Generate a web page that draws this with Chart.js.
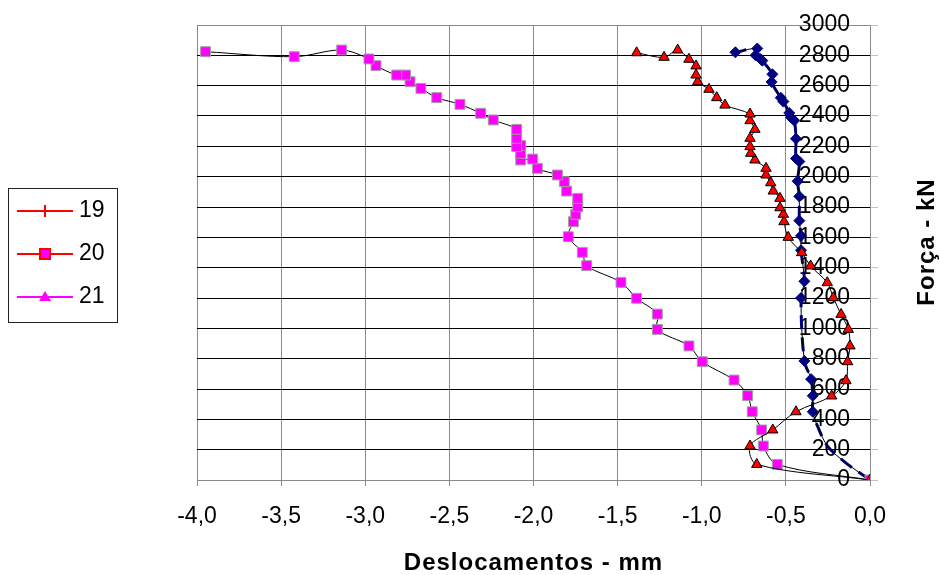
<!DOCTYPE html>
<html>
<head>
<meta charset="utf-8">
<script src="https://cdn.jsdelivr.net/npm/chart.js@4/dist/chart.umd.min.js"></script>
<style>
  html, body { margin: 0; padding: 0; background: #fff; }
  #wrap { width: 940px; height: 575px; position: relative; }
</style>
</head>
<body>
<div id="wrap"><canvas id="c" width="940" height="575"></canvas></div>
<script>
// Axis ticks
const xTicks = [-4.0, -3.5, -3.0, -2.5, -2.0, -1.5, -1.0, -0.5, 0.0];
const yTicks = [0, 200, 400, 600, 800, 1000, 1200, 1400, 1600, 1800, 2000, 2200, 2400, 2600, 2800, 3000];
const legendLabels = ['19', '20', '21'];
const xTitle = 'Deslocamentos - mm';
const yTitle = 'Força - kN';

// Navy diamonds: displacement (mm) and load (kN)
const diamondDesl = [0, -0.14, -0.25, -0.31, -0.34, -0.34, -0.35, -0.39, -0.41, -0.39, -0.41, -0.41, -0.42, -0.42, -0.43, -0.42, -0.44, -0.44, -0.45, -0.47, -0.48, -0.515, -0.53, -0.585, -0.58, -0.64, -0.65, -0.68, -0.67, -0.80];
const diamondForca = [0, 110, 220, 350, 450, 555, 665, 785, 1200, 1310, 1515, 1610, 1710, 1870, 1970, 2100, 2120, 2250, 2370, 2390, 2420, 2495, 2520, 2625, 2675, 2765, 2775, 2800, 2845, 2820];

// Red triangles
const triangleDesl = [0, -0.673, -0.713, -0.578, -0.44, -0.228, -0.143, -0.133, -0.119, -0.129, -0.172, -0.218, -0.254, -0.353, -0.406, -0.486, -0.511, -0.515, -0.535, -0.535, -0.575, -0.59, -0.618, -0.618, -0.684, -0.709, -0.713, -0.713, -0.684, -0.713, -0.713, -0.862, -0.911, -0.957, -1.024, -1.034, -1.034, -1.076, -1.143, -1.224, -1.387];
const triangleForca = [0, 103, 224, 330, 450, 554, 655, 780, 884, 993, 1092, 1202, 1301, 1411, 1499, 1600, 1703, 1752, 1795, 1857, 1905, 1960, 2011, 2055, 2110, 2154, 2198, 2253, 2312, 2369, 2413, 2472, 2521, 2576, 2626, 2670, 2730, 2774, 2835, 2787, 2817];

// Magenta squares
const squareDesl = [0, -0.551, -0.634, -0.644, -0.70, -0.727, -0.808, -0.997, -1.076, -1.264, -1.264, -1.387, -1.48, -1.684, -1.71, -1.793, -1.763, -1.749, -1.737, -1.737, -1.803, -1.817, -1.858, -1.977, -2.005, -2.076, -2.076, -2.076, -2.1, -2.1, -2.1, -2.239, -2.314, -2.437, -2.575, -2.669, -2.734, -2.76, -2.813, -2.936, -2.978, -3.14, -3.422, -3.949];
const squareForca = [0, 103, 224, 330, 450, 556, 659, 780, 884, 993, 1094, 1198, 1303, 1413, 1501, 1604, 1703, 1752, 1802, 1857, 1905, 1967, 2011, 2055, 2116, 2110, 2154, 2205, 2198, 2253, 2312, 2374, 2418, 2477, 2521, 2582, 2626, 2670, 2670, 2732, 2776, 2835, 2791, 2824];

const toPoints = (xs, ys) => xs.map((x, i) => ({ x: x, y: ys[i] }));

const FONT = "'Liberation Sans', Arial, sans-serif";
const GRID_GREY = '#8a8a8a';
const NAVY = '#000080';
const RED = '#ff0000';
const MAGENTA = '#ff00ff';

// Titles and legend box drawn on the canvas
const decorPlugin = {
  id: 'decor',
  afterDraw(chart) {
    const ctx = chart.ctx;
    const area = chart.chartArea;
    ctx.save();
    ctx.fillStyle = '#000';
    ctx.font = 'bold 24px ' + FONT;
    ctx.letterSpacing = '1px';
    ctx.textAlign = 'center';
    ctx.textBaseline = 'middle';
    ctx.fillText(xTitle, (area.left + area.right) / 2, 563);
    ctx.save();
    ctx.translate(927, 242);
    ctx.rotate(-Math.PI / 2);
    ctx.fillText(yTitle, 0, 0);
    ctx.restore();
    ctx.letterSpacing = '0px';

    // legend
    ctx.strokeStyle = '#222';
    ctx.lineWidth = 1;
    ctx.strokeRect(8.5, 188.5, 109, 134);
    const rows = [211, 254, 297];
    const lineColors = [RED, RED, MAGENTA];
    rows.forEach((ry, i) => {
      ctx.strokeStyle = lineColors[i];
      ctx.lineWidth = 2;
      ctx.beginPath();
      ctx.moveTo(17, ry);
      ctx.lineTo(73, ry);
      ctx.stroke();
      if (i === 0) {
        ctx.beginPath();
        ctx.moveTo(45, ry - 6);
        ctx.lineTo(45, ry + 6);
        ctx.stroke();
      } else if (i === 1) {
        ctx.fillStyle = MAGENTA;
        ctx.fillRect(40, ry - 5, 10, 10);
        ctx.strokeStyle = RED;
        ctx.strokeRect(40, ry - 5, 10, 10);
      } else {
        ctx.fillStyle = MAGENTA;
        ctx.beginPath();
        ctx.moveTo(45, ry - 6);
        ctx.lineTo(51, ry + 4);
        ctx.lineTo(39, ry + 4);
        ctx.closePath();
        ctx.fill();
      }
      ctx.fillStyle = '#000';
      ctx.font = '23px ' + FONT;
      ctx.textAlign = 'left';
      ctx.textBaseline = 'middle';
      ctx.fillText(legendLabels[i], 79, ry);
    });
    ctx.restore();
  }
};

new Chart(document.getElementById('c'), {
  type: 'scatter',
  data: {
    datasets: [
      {
        data: toPoints(triangleDesl, triangleForca),
        showLine: true,
        borderColor: '#000',
        borderWidth: 1,
        tension: 0.33,
        pointStyle: 'triangle',
        pointRadius: 6,
        pointBackgroundColor: RED,
        pointBorderColor: '#000',
        pointBorderWidth: 1
      },
      {
        data: toPoints(squareDesl, squareForca),
        showLine: true,
        borderColor: '#000',
        borderWidth: 1,
        tension: 0.33,
        pointStyle: 'rect',
        pointRadius: 7,
        pointBackgroundColor: MAGENTA,
        pointBorderColor: '#a0a0a0',
        pointBorderWidth: 1
      },
      {
        data: toPoints(diamondDesl, diamondForca),
        showLine: true,
        borderColor: '#000',
        borderWidth: 1,
        tension: 0.33,
        pointStyle: 'rectRot',
        pointRadius: (c) => (c.raw && c.raw.y < 400 ? 0 : 5.5),
        pointBackgroundColor: NAVY,
        pointBorderColor: NAVY,
        pointBorderWidth: 1
      },
      {
        data: toPoints(diamondDesl, diamondForca),
        showLine: true,
        borderColor: NAVY,
        borderWidth: 3,
        borderDash: [14, 8],
        tension: 0.33,
        pointRadius: 0
      }
    ]
  },
  options: {
    responsive: false,
    animation: false,
    events: [],
    layout: { padding: { left: 197, right: 62, top: 25, bottom: 0 } },
    plugins: {
      legend: { display: false },
      tooltip: { enabled: false },
      title: { display: false }
    },
    scales: {
      x: {
        type: 'linear',
        position: 'bottom',
        min: -4,
        max: 0,
        afterBuildTicks: (s) => { s.ticks = xTicks.map(v => ({ value: v })); },
        afterFit: (s) => { s.height = 95; },
        ticks: {
          callback: (v) => Number(v).toFixed(1).replace('.', ','),
          font: { family: FONT, size: 23 },
          color: '#000',
          padding: 17,
          maxRotation: 0,
          autoSkip: false
        },
        grid: { color: GRID_GREY, tickColor: GRID_GREY, tickLength: 6, drawTicks: true },
        border: { color: GRID_GREY }
      },
      y: {
        type: 'linear',
        position: 'right',
        min: 0,
        max: 3000,
        afterBuildTicks: (s) => { s.ticks = yTicks.map(v => ({ value: v })); },
        afterFit: (s) => { s.width = 8; },
        ticks: {
          callback: (v) => String(v),
          mirror: true,
          padding: -20,
          font: { family: FONT, size: 23 },
          color: '#000',
          autoSkip: false
        },
        grid: {
          color: (c) => (c.tick && (c.tick.value === 0 || c.tick.value === 3000) ? GRID_GREY : '#000'),
          tickColor: '#c4c4c4',
          tickLength: 8
        },
        border: { color: GRID_GREY }
      }
    }
  },
  plugins: [decorPlugin]
});
</script>
</body>
</html>
